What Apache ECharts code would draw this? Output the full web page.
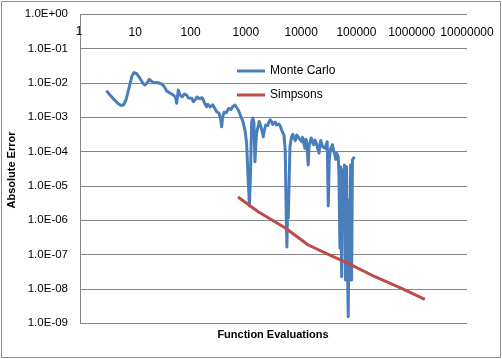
<!DOCTYPE html>
<html><head><meta charset="utf-8">
<script src="https://cdn.jsdelivr.net/npm/echarts@6/dist/echarts.min.js"></script>
<style>html,body{margin:0;padding:0;background:#fff}#c{width:502px;height:359px}</style>
</head><body><div id="c"></div>
<script>
const mcX = [3, 3.49, 4.12, 4.87, 5.51, 6.12, 6.79, 7.69, 8.72, 9.47, 10.5, 12.2, 13.8, 15.0, 16.3, 17.9, 19.2, 21.2, 24.7, 30.0, 33.0, 37.0, 42.4, 48.7, 53.3, 56.1, 59.9, 64.3, 70.8, 77.6, 85.0, 91.6, 97.5, 105, 112, 118, 125, 130, 138, 146, 154, 162, 170, 176, 182, 188, 195, 205, 215, 228, 241, 253, 265, 280, 297, 311, 326, 332, 340, 352, 365, 378, 390, 404, 419, 442, 465, 490, 516, 543, 572, 603, 635, 658, 682, 705, 729, 755, 782, 810, 839, 872, 905, 934, 963, 1033, 1091, 1161, 1211, 1273, 1344, 1400, 1462, 1510, 1567, 1620, 1690, 1740, 1798, 1860, 1931, 2000, 2064, 2140, 2215, 2290, 2377, 2490, 2617, 2770, 2930, 3070, 3223, 3400, 3606, 3780, 3969, 4200, 4436, 4660, 4887, 5156, 5379, 5534, 5700, 5848, 6273, 6500, 6730, 7050, 7413, 7850, 8295, 8700, 9125, 9650, 10210, 10600, 11010, 11720, 12150, 12570, 13440, 13900, 14420, 15200, 16000, 16900, 17770, 18400, 19070, 19700, 20370, 21100, 21870, 22700, 23480, 24300, 25100, 26000, 26920, 28200, 29640, 30920, 32230, 34000, 35630, 37000, 38370, 39600, 40830, 42300, 43850, 45300, 46880, 48290, 50330, 51780, 54000, 55840, 58210, 60680, 63270, 66520, 68760, 71120, 74140, 76270, 78540, 81870, 84660, 88290, 92040];
const mcY = [6.0e-3, 4.46e-3, 3.30e-3, 2.52e-3, 2.20e-3, 2.28e-3, 3.19e-3, 7.13e-3, 1.60e-2, 2.0e-2, 1.89e-2, 1.35e-2, 9.64e-3, 8.7e-3, 1.0e-2, 1.28e-2, 1.14e-2, 1.02e-2, 1.03e-2, 9.3e-3, 8.1e-3, 5.8e-3, 5.1e-3, 4.46e-3, 3.9e-3, 2.56e-3, 6.2e-3, 4.46e-3, 3.98e-3, 4.77e-3, 4.46e-3, 3.65e-3, 3.98e-3, 3.6e-3, 2.84e-3, 3.0e-3, 3.41e-3, 3.9e-3, 3.72e-3, 3.5e-3, 3.98e-3, 3.7e-3, 3.19e-3, 2.9e-3, 2.44e-3, 2.6e-3, 2.03e-3, 2.4e-3, 2.28e-3, 2.0e-3, 1.83e-3, 2.3e-3, 2.0e-3, 1.7e-3, 1.46e-3, 1.5e-3, 1.33e-3, 1.2e-3, 1.04e-3, 8.5e-4, 5.3e-4, 9.5e-4, 1.17e-3, 1.4e-3, 1.31e-3, 1.35e-3, 1.52e-3, 1.8e-3, 1.63e-3, 1.7e-3, 2.0e-3, 2.1e-3, 2.28e-3, 2.5e-3, 1.93e-3, 1.7e-3, 1.63e-3, 1.45e-3, 1.25e-3, 1.1e-3, 9.3e-4, 8.0e-4, 6.4e-4, 5.2e-4, 4.26e-4, 1.75e-4, 2.08e-5, 2.61e-6, 2.08e-5, 7.4e-4, 9.5e-4, 7.0e-4, 5.1e-5, 1.6e-4, 3.42e-4, 4.5e-4, 5.96e-4, 7.5e-4, 6.7e-4, 5.5e-4, 4.88e-4, 3.5e-4, 2.72e-4, 3.9e-4, 4.88e-4, 6.0e-4, 6.7e-4, 5.8e-4, 7.3e-4, 8.5e-4, 7.4e-4, 6.2e-4, 6.8e-4, 7.2e-4, 5.96e-4, 5.4e-4, 6.4e-4, 5.5e-4, 4.26e-4, 3.6e-4, 3.05e-4, 1.11e-4, 1.16e-6, 1.67e-7, 3.9e-6, 1.16e-6, 1.39e-4, 2.0e-4, 2.72e-4, 3.2e-4, 2.49e-4, 2.1e-4, 3.05e-4, 2.9e-4, 2.49e-4, 2.2e-4, 1.95e-4, 2.6e-4, 2.49e-4, 1.25e-4, 2.3e-4, 1.91e-4, 4.07e-5, 1.5e-4, 1.75e-4, 2.5e-4, 2.04e-4, 1.6e-4, 2.18e-4, 2.4e-4, 1.67e-4, 1.3e-4, 1.11e-4, 9.0e-5, 1.67e-4, 2.1e-4, 1.95e-4, 1.4e-4, 1.46e-4, 1.6e-4, 1.25e-4, 1.2e-4, 1.95e-4, 2.61e-6, 5.7e-5, 1.2e-4, 1.39e-4, 1.6e-4, 1.11e-4, 9.5e-5, 7.98e-5, 6.0e-5, 9.1e-5, 1.0e-4, 7.1e-5, 2.08e-5, 1.53e-7, 3.64e-5, 2.27e-8, 2.92e-5, 3.9e-6, 4.07e-5, 1.82e-8, 3.64e-5, 6.97e-8, 1.55e-9, 3.9e-6, 1.82e-8, 4.07e-5, 1.82e-8, 5.7e-5, 6.5e-5, 7.1e-5];
const simX = [720, 1675, 5095, 13440, 30920, 71120, 216300, 656000, 1730000];
const simY = [4.77e-6, 1.78e-6, 6.08e-7, 1.91e-7, 1.02e-7, 5.58e-8, 2.27e-8, 1.04e-8, 4.99e-9];
const xTickLabels = ['1', '10', '100', '1000', '10000', '100000', '1000000', '10000000'];
const yTickLabels = ['1.0E-09', '1.0E-08', '1.0E-07', '1.0E-06', '1.0E-05', '1.0E-04', '1.0E-03', '1.0E-02', '1.0E-01', '1.0E+00'];
const seriesNames = ['Monte Carlo', 'Simpsons'];
const xTitle = 'Function Evaluations';
const yTitle = 'Absolute Error';

const chart = echarts.init(document.getElementById('c'), null, {renderer: 'canvas'});
const FONT = 'Liberation Sans, Arial, sans-serif';
const gridColor = '#868686';
chart.setOption({
  animation: false,
  grid: {left: 80, right: 35, top: 14.3, bottom: 35.7},
  legend: {
    orient: 'vertical', left: 237, top: 64, padding: 0,
    icon: 'rect', itemWidth: 28, itemHeight: 3, itemGap: 10, itemTextGap: 1,
    textStyle: {fontSize: 12, color: '#000', lineHeight: 14, fontFamily: FONT},
    data: seriesNames
  },
  xAxis: {
    type: 'log', logBase: 10, min: 1, max: 1e7, interval: 1, position: 'top',
    axisLine: {show: false}, axisTick: {show: false}, splitLine: {show: false},
    axisLabel: {inside: true, margin: 12, fontSize: 12, color: '#000', fontFamily: FONT,
      formatter: function (v) { const i = Math.round(Math.log10(v)); return i === 0 ? '' : xTickLabels[i]; }}
  },
  yAxis: {
    type: 'log', logBase: 10, min: 1e-9, max: 1, interval: 1,
    axisLine: {show: false}, axisTick: {show: false},
    splitLine: {show: true, lineStyle: {color: gridColor, width: 1}},
    axisLabel: {margin: 12, fontSize: 11.5, color: '#000', fontFamily: FONT,
      formatter: function (v) { return yTickLabels[Math.round(Math.log10(v)) + 9]; }}
  },
  series: [
    {name: seriesNames[0], type: 'line', symbol: 'none', color: '#4A7EBB',
      lineStyle: {width: 3, color: '#4A7EBB', join: 'round'},
      data: mcX.map((x, i) => [x, mcY[i]])},
    {name: seriesNames[1], type: 'line', symbol: 'none', color: '#BE4B48',
      lineStyle: {width: 3, color: '#BE4B48', join: 'round'},
      data: simX.map((x, i) => [x, simY[i]])}
  ]
});
// left axis line and the first x tick label, placed through the axes' own scales
const pTop = chart.convertToPixel({xAxisIndex: 0, yAxisIndex: 0}, [1, 1]);
const pBot = chart.convertToPixel({xAxisIndex: 0, yAxisIndex: 0}, [1, 1e-9]);
const lx = Math.round(pTop[0]) + 0.5;
chart.setOption({graphic: [
  {type: 'rect', z: -10, shape: {x: 1.5, y: 1.5, width: 499, height: 356}, style: {fill: 'none', stroke: '#8c8c8c', lineWidth: 1}},
  {type: 'line', z: -10, shape: {x1: lx, y1: pTop[1], x2: lx, y2: pBot[1]}, style: {stroke: gridColor, lineWidth: 1}},
  {type: 'text', z: 100, x: pTop[0] - 1, y: pTop[1] + 11, style: {text: xTickLabels[0], font: '12px ' + FONT, fill: '#000', textAlign: 'center', textVerticalAlign: 'top'}},
  {type: 'text', x: 273, y: 335, style: {text: xTitle, font: 'bold 11px ' + FONT, fill: '#000', textAlign: 'center', textVerticalAlign: 'middle'}},
  {type: 'text', x: 11.5, y: 170, rotation: Math.PI / 2, style: {text: yTitle, font: 'bold 11px ' + FONT, fill: '#000', textAlign: 'center', textVerticalAlign: 'middle'}}
]});
</script></body></html>
